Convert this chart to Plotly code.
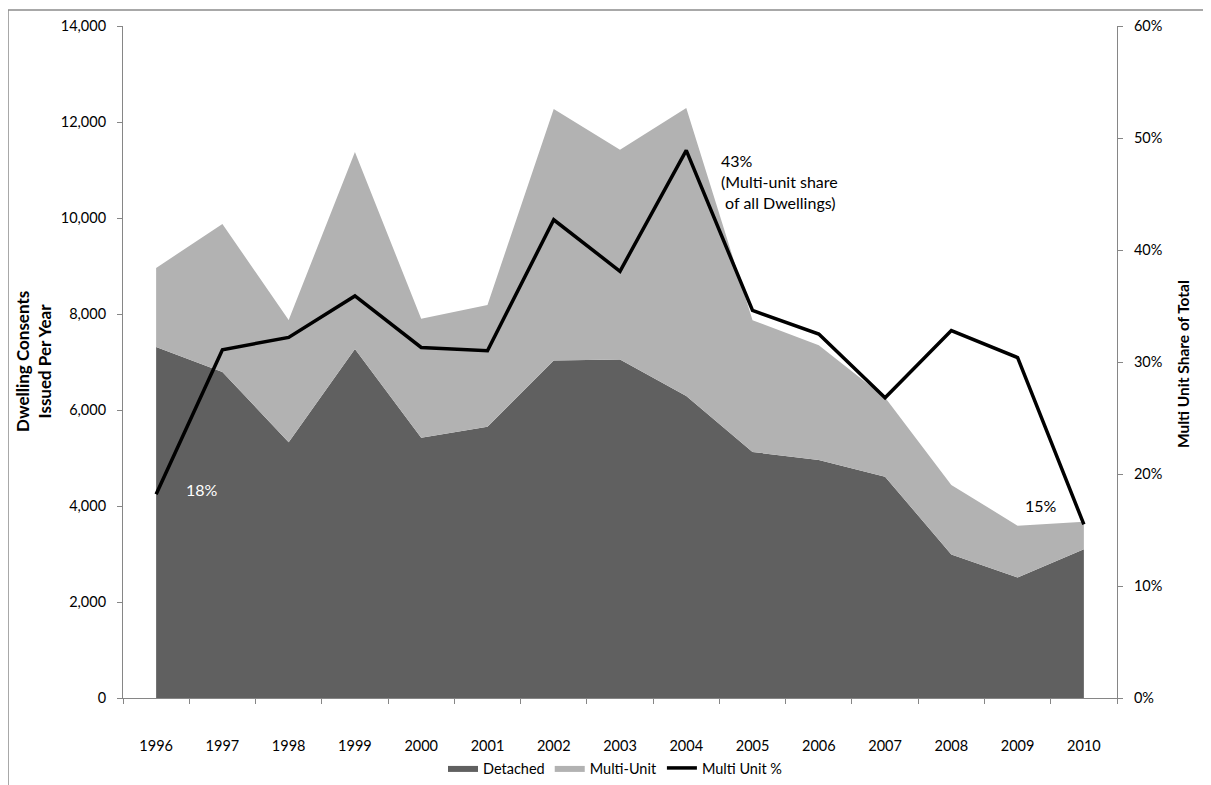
import plotly.graph_objects as go

years = ["1996", "1997", "1998", "1999", "2000", "2001", "2002", "2003",
         "2004", "2005", "2006", "2007", "2008", "2009", "2010"]
detached = [7310, 6790, 5330, 7270, 5420, 5650, 7030, 7050, 6290, 5125, 4960, 4610, 2990, 2510, 3100]
multi_unit = [1650, 3085, 2545, 4105, 2480, 2540, 5240, 4370, 6000, 2745, 2390, 1650, 1450, 1080, 570]
multi_pct = [18.2, 31.1, 32.2, 35.9, 31.3, 31.0, 42.7, 38.1, 48.9, 34.6, 32.5, 26.8, 32.8, 30.4, 15.5]

FONT = "Lato, 'Open Sans', sans-serif"
AXIS_COL = "#868686"
W, H = 1203, 777
L, R, T, B = 115, 94, 18, 87

fig = go.Figure()
fig.add_trace(go.Scatter(x=years, y=detached, name="Detached", mode="lines",
                         stackgroup="one", line=dict(width=0, color="#606060"),
                         fillcolor="#606060"))
fig.add_trace(go.Scatter(x=years, y=multi_unit, name="Multi-Unit", mode="lines",
                         stackgroup="one", line=dict(width=0, color="#b2b2b2"),
                         fillcolor="#b2b2b2"))
fig.add_trace(go.Scatter(x=years, y=multi_pct, name="Multi Unit %", mode="lines",
                         yaxis="y2", line=dict(width=3.5, color="black")))

fig.update_layout(
    width=W, height=H,
    margin=dict(l=L, r=R, t=T, b=B, autoexpand=False),
    paper_bgcolor="white", plot_bgcolor="white",
    font=dict(family=FONT, size=14, color="#000000"),
    showlegend=True,
    legend=dict(orientation="h", xref="container", yref="container",
                x=607 / W, xanchor="center", y=1 - 760 / H, yanchor="middle",
                font=dict(size=14.5), traceorder="normal"),
    xaxis=dict(type="category", range=[-0.5, 14.5], showline=True, linecolor=AXIS_COL,
               linewidth=1, ticks="outside", tickson="boundaries", ticklen=5,
               tickcolor=AXIS_COL, showgrid=False, ticklabelstandoff=35,
               automargin=False, tickfont=dict(size=14.5)),
    yaxis=dict(range=[0, 14000], dtick=2000, tickformat=",", showline=True,
               linecolor=AXIS_COL, ticks="outside", ticklen=5, tickcolor=AXIS_COL,
               showgrid=False, zeroline=False, ticklabelstandoff=8, automargin=False,
               tickfont=dict(size=14.5)),
    yaxis2=dict(range=[0, 60], dtick=10, ticksuffix="%", overlaying="y", side="right",
                showline=True, linecolor=AXIS_COL, ticks="outside", ticklen=5,
                tickcolor=AXIS_COL, showgrid=False, zeroline=False, ticklabelstandoff=8,
                automargin=False, tickfont=dict(size=14.5)),
)

PW = W - L - R
PH = H - T - B
# outer chart frame
fig.add_shape(type="rect", xref="paper", yref="paper",
              x0=-L / PW, x1=(1200 - L) / PW, y0=-0.5, y1=1 + (T - 2) / PH,
              line=dict(color="#8c8c8c", width=1.5), fillcolor="rgba(0,0,0,0)", layer="below")

# axis titles
fig.add_annotation(text="<b>Dwelling Consents<br>Issued Per Year</b>", xref="paper", yref="paper",
                   x=(33 - 8 - L) / PW, y=(698 - 362) / PH, textangle=-90, showarrow=False,
                   font=dict(size=17), xanchor="center", yanchor="middle")
fig.add_annotation(text="<b>Multi Unit Share of Total</b>", xref="paper", yref="paper",
                   x=1 + (1183 - 1117) / PW, y=(698 - 364) / PH, textangle=-90, showarrow=False,
                   font=dict(size=15.5), xanchor="center", yanchor="middle")

# data annotations
fig.add_annotation(text="43%<br>(Multi-unit share<br> of all Dwellings)", xref="x", yref="y2",
                   x=8.5, y=46.1, showarrow=False, align="left", xanchor="left",
                   yanchor="middle", font=dict(size=16))
fig.add_annotation(text="18%", xref="x", yref="y2", x=0.69, y=18.6, showarrow=False,
                   font=dict(size=16, color="white"))
fig.add_annotation(text="15%", xref="x", yref="y2", x=13.35, y=17.2, showarrow=False,
                   font=dict(size=16))

fig.write_html("out.html")
